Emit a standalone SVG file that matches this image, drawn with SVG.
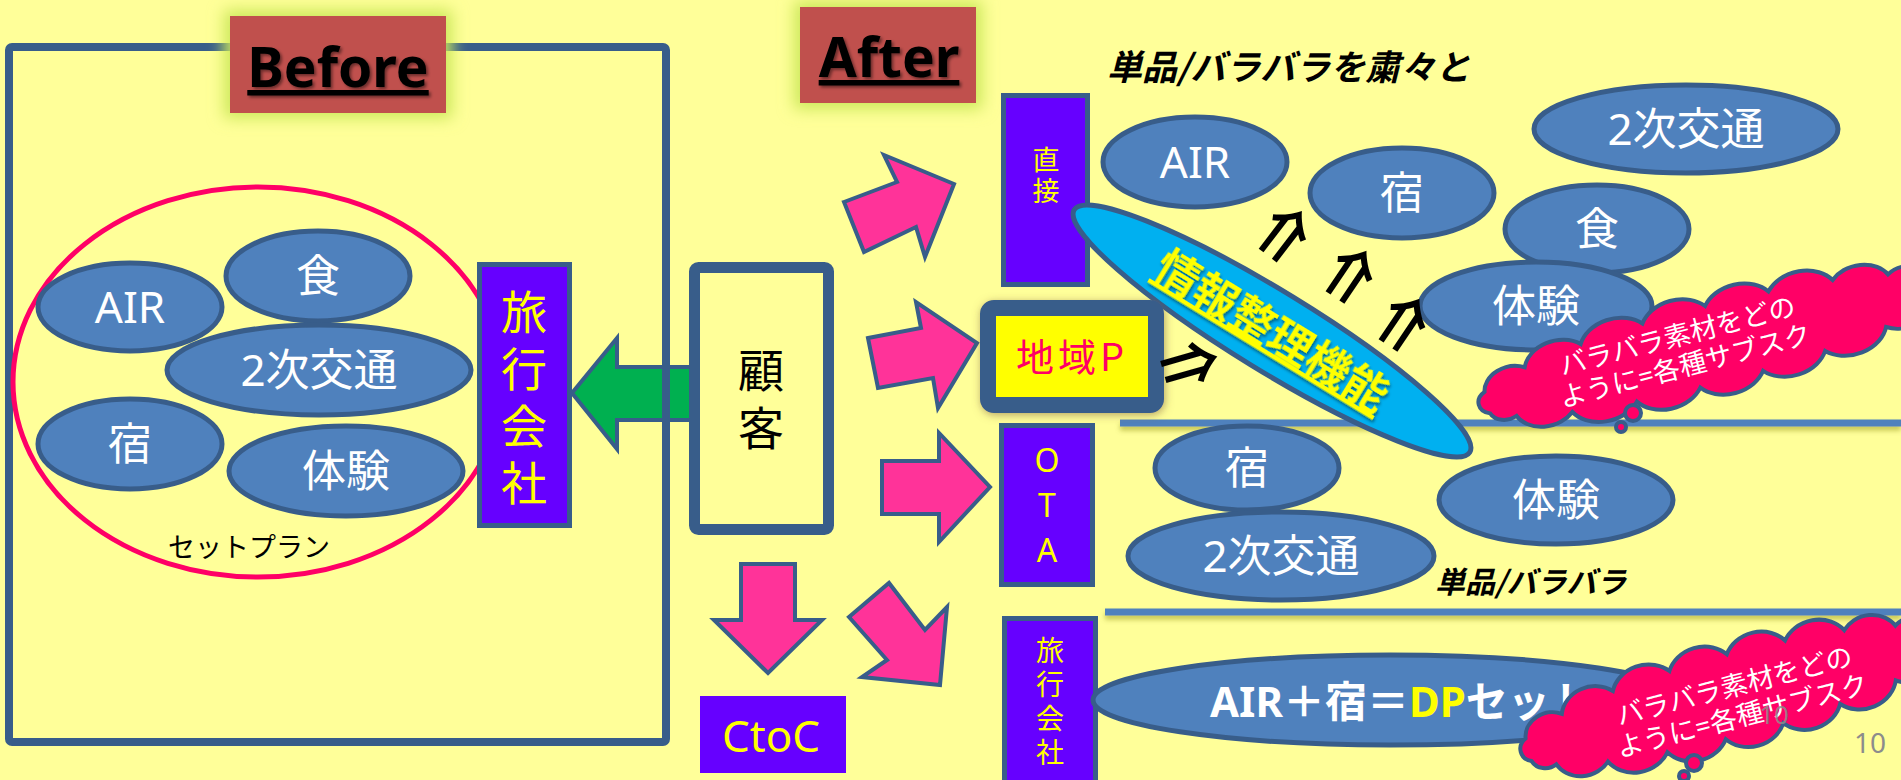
<svg xmlns="http://www.w3.org/2000/svg" width="1901" height="780" viewBox="0 0 1901 780">
<defs>
<style>
.ell{fill:#4F81BD;stroke:#385D8A;stroke-width:5}
.lbl{fill:#fff;font-family:"Noto Sans","Noto Sans CJK JP",sans-serif;font-size:44px;text-anchor:middle}
.pbox{fill:#6600FF;stroke:#385D8A;stroke-width:5}
.ytx{fill:#FFFF00;font-family:"Noto Sans","Noto Sans CJK JP",sans-serif;text-anchor:middle}
.vt{fill:#FFFF00;font-family:"Noto Sans CJK JP",sans-serif;writing-mode:vertical-rl;text-anchor:start}
.parrow{fill:#FF3399;stroke:#385D8A;stroke-width:4}
.cloud{fill:#FF0066;stroke:#385D8A;stroke-width:4}
.ctx{fill:#fff;font-family:"Noto Sans","Noto Sans CJK JP",sans-serif;font-size:27px;text-anchor:middle}
.dbl{fill:#000;font-family:"Noto Sans CJK JP",sans-serif;font-weight:bold;font-size:60px;text-anchor:middle}
.sep{fill:#4F81BD}
.ttl{font-family:"Noto Sans","Liberation Sans",sans-serif;font-weight:bold;font-size:55px;text-anchor:middle;text-decoration:underline;fill:#000}
.redbox{fill:#C0504D}
.glowbox{fill:#CBE85A}
.note{font-family:"Noto Sans CJK JP",sans-serif;font-weight:bold;font-style:italic;fill:#000}
.pg{fill:#8C8C8C;font-family:"Noto Sans",sans-serif;text-anchor:middle}
</style>
<filter id="glow" x="-40%" y="-50%" width="180%" height="200%"><feGaussianBlur stdDeviation="8"/></filter>
<filter id="tsh" x="-10%" y="-20%" width="130%" height="150%"><feDropShadow dx="2" dy="2" stdDeviation="1.5" flood-color="#000" flood-opacity="0.45"/></filter>
<filter id="lsh" x="-5%" y="-100%" width="110%" height="400%"><feDropShadow dx="0" dy="4" stdDeviation="2.5" flood-color="#808000" flood-opacity="0.45"/></filter>
<filter id="bsh" x="-20%" y="-30%" width="140%" height="160%"><feDropShadow dx="1" dy="2" stdDeviation="4" flood-color="#7A5A3A" flood-opacity="0.55"/></filter>
</defs>

<rect x="0" y="0" width="1901" height="780" fill="#FFFF99"/>

<g id="connectors">
  <polygon id="green-arrow" points="572,393 617,338 617,367 700,367 700,420 617,420 617,449" fill="#00B050" stroke="#385D8A" stroke-width="4"/>
  <polygon class="parrow" points="844,202 897,182 884,155 954,184 925,257 916,227 864,252"/>
  <polygon class="parrow" points="868,338 921,328 916,302 977,343 938,408 933,378 878,388"/>
  <polygon class="parrow" points="882,461 939,461 939,433 990,487 939,542 939,514 882,514"/>
  <polygon class="parrow" points="741,564 795,564 795,620 822,620 768,673 714,620 741,620"/>
  <polygon class="parrow" points="849,617 889,583 925,630 947,607 940,685 862,677 887,660"/>
</g>

<g id="before-frame">
  <rect x="9" y="47" width="657" height="695" rx="3" fill="none" stroke="#385D8A" stroke-width="8"/>
</g>

<g id="before-label">
  <rect class="glowbox" x="224" y="10" width="228" height="108" filter="url(#glow)"/>
  <rect class="redbox" x="230" y="16" width="216" height="97"/>
  <text class="ttl" x="338" y="87" filter="url(#tsh)">Before</text>
</g>

<g id="after-label">
  <rect class="glowbox" x="794" y="1" width="188" height="108" filter="url(#glow)"/>
  <rect class="redbox" x="800" y="7" width="176" height="96"/>
  <text class="ttl" x="889" y="77" filter="url(#tsh)">After</text>
</g>

<g id="set-plan">
  <ellipse cx="258" cy="382" rx="245" ry="195" fill="none" stroke="#FF0066" stroke-width="5"/>
  <text x="249" y="557" font-family="'Noto Sans CJK JP',sans-serif" font-size="27" text-anchor="middle" fill="#000">セットプラン</text>
</g>

<g id="b-air"><ellipse class="ell" cx="130" cy="307" rx="92" ry="44"/><text class="lbl" x="130" y="323">AIR</text></g>
<g id="b-food"><ellipse class="ell" cx="318" cy="276" rx="92" ry="45"/><text class="lbl" x="318" y="292">食</text></g>
<g id="b-transit"><ellipse class="ell" cx="319" cy="370" rx="152" ry="45"/><text class="lbl" x="319" y="386">2次交通</text></g>
<g id="b-inn"><ellipse class="ell" cx="130" cy="444" rx="92" ry="45"/><text class="lbl" x="130" y="460">宿</text></g>
<g id="b-exp"><ellipse class="ell" cx="346" cy="471" rx="117" ry="45"/><text class="lbl" x="346" y="487">体験</text></g>

<g id="b-agency">
  <rect class="pbox" x="479.5" y="264.5" width="90" height="261"/>
  <text class="vt" x="524" y="289" font-size="46" letter-spacing="11">旅行会社</text>
</g>

<g id="customer">
  <rect x="694.5" y="267.5" width="134" height="262" rx="4" fill="#FFFF99" stroke="#385D8A" stroke-width="11"/>
  <text x="761" y="347" font-family="'Noto Sans CJK JP',sans-serif" font-size="46" fill="#000" writing-mode="vertical-rl" letter-spacing="12">顧客</text>
</g>

<g id="ctoc">
  <rect x="700" y="696" width="146" height="77" fill="#6600FF"/>
  <text class="ytx" x="771" y="752" font-size="44">CtoC</text>
</g>

<g id="separators">
  <rect class="sep" x="1120" y="419.5" width="781" height="7" filter="url(#lsh)"/>
  <rect class="sep" x="1105" y="608.5" width="796" height="7" filter="url(#lsh)"/>
</g>

<g id="note-top"><text class="note" x="1107" y="80" font-size="35">単品/バラバラを粛々と</text></g>
<g id="note-mid"><text class="note" x="1435" y="593" font-size="30">単品/バラバラ</text></g>

<g id="m-inn"><ellipse class="ell" cx="1247" cy="468" rx="92" ry="42"/><text class="lbl" x="1247" y="484">宿</text></g>
<g id="m-transit"><ellipse class="ell" cx="1281" cy="556" rx="153" ry="44"/><text class="lbl" x="1281" y="572">2次交通</text></g>
<g id="m-exp"><ellipse class="ell" cx="1556" cy="500" rx="117" ry="44"/><text class="lbl" x="1556" y="516">体験</text></g>

<g id="a-air"><ellipse class="ell" cx="1195" cy="162" rx="92" ry="45"/><text class="lbl" x="1195" y="178">AIR</text></g>
<g id="a-inn"><ellipse class="ell" cx="1402" cy="193" rx="92" ry="45"/><text class="lbl" x="1402" y="209">宿</text></g>
<g id="a-transit"><ellipse class="ell" cx="1686" cy="129" rx="152" ry="44"/><text class="lbl" x="1686" y="145">2次交通</text></g>
<g id="a-food"><ellipse class="ell" cx="1597" cy="229" rx="92" ry="44"/><text class="lbl" x="1597" y="245">食</text></g>
<g id="a-exp"><ellipse class="ell" cx="1536" cy="306" rx="116" ry="44"/><text class="lbl" x="1536" y="322">体験</text></g>

<g id="direct">
  <rect class="pbox" x="1003.5" y="95.5" width="84" height="189"/>
  <text class="vt" x="1046" y="146" font-size="27" letter-spacing="4">直接</text>
</g>

<g id="info-function" transform="translate(1272,331) rotate(31.5)">
  <ellipse cx="0" cy="0" rx="232" ry="40" fill="#00B0F0" stroke="#385D8A" stroke-width="5"/>
  <text x="0" y="16" font-family="'Noto Sans CJK JP',sans-serif" font-weight="bold" font-size="44" text-anchor="middle" fill="#FFFF00" text-decoration="underline" filter="url(#tsh)">情報整理機能</text>
</g>

<g id="region-p">
  <rect x="988" y="308" width="168" height="97" rx="6" fill="#FFFF00" stroke="#385D8A" stroke-width="16" filter="url(#bsh)"/>
  <text x="1072" y="371" font-family="'Noto Sans CJK JP',sans-serif" font-size="38" text-anchor="middle" fill="#FF0066" letter-spacing="4">地域P</text>
</g>

<g id="double-arrows">
  <text class="dbl" transform="translate(1190,365) rotate(-16)" x="0" y="22">⇒</text>
  <text class="dbl" transform="translate(1285,234) rotate(-52.5)" x="0" y="22">⇒</text>
  <text class="dbl" transform="translate(1351,275) rotate(-56)" x="0" y="22">⇒</text>
  <text class="dbl" transform="translate(1404,323) rotate(-56)" x="0" y="22">⇒</text>
</g>

<g id="cloud-1">
  <path class="cloud" vector-effect="non-scaling-stroke" transform="translate(1710,345) rotate(-14.5) scale(1,0.78)" d="M -230 -14.3 A 28 28 0 0 1 -185 -31.9 A 35 35 0 0 1 -125 -42.7 A 38 38 0 0 1 -60 -48.4 A 38 38 0 0 1 5 -50 A 38 38 0 0 1 70 -47.8 A 38 38 0 0 1 135 -41.3 A 33 33 0 0 1 190 -30.5 A 24 24 0 0 1 228 -15.6 A 17 17 0 0 1 228 15.6 A 33 33 0 0 1 175 34.2 A 38 38 0 0 1 110 44.4 A 38 38 0 0 1 45 49.1 A 38 38 0 0 1 -20 49.8 A 38 38 0 0 1 -85 46.8 A 38 38 0 0 1 -150 39 A 33 33 0 0 1 -205 26 A 18 18 0 0 1 -230 14.3 A 16 16 0 0 1 -230 -14.3 Z"/>
  <circle class="cloud" cx="1633" cy="413" r="8"/>
  <circle class="cloud" cx="1621" cy="427" r="5"/>
  <g transform="translate(1681,350) rotate(-14.5)">
    <text class="ctx" x="0" y="-5">バラバラ素材をどの</text>
    <text class="ctx" x="0" y="26">ように=各種サブスク</text>
  </g>
</g>

<g id="ota">
  <rect class="pbox" x="1001.5" y="425.5" width="91" height="159"/>
  <g class="ytx" font-size="32"><text x="1047" y="472">O</text><text x="1047" y="517">T</text><text x="1047" y="562">A</text></g>
</g>

<g id="a-agency">
  <rect class="pbox" x="1004.5" y="618.5" width="91" height="170"/>
  <text class="vt" x="1050" y="636" font-size="28" letter-spacing="6">旅行会社</text>
</g>

<g id="dp-set">
  <ellipse class="ell" cx="1390" cy="700" rx="297" ry="45"/>
  <text x="1210" y="717" font-family="'Noto Sans','Noto Sans CJK JP',sans-serif" font-weight="bold" font-size="42" fill="#fff">AIR＋宿＝<tspan fill="#FFFF00">DP</tspan>セット</text>
</g>

<g id="cloud-2">
  <path class="cloud" vector-effect="non-scaling-stroke" transform="translate(1733,695) rotate(-15) scale(0.92,0.82)" d="M -230 -14.3 A 28 28 0 0 1 -185 -31.9 A 35 35 0 0 1 -125 -42.7 A 38 38 0 0 1 -60 -48.4 A 38 38 0 0 1 5 -50 A 38 38 0 0 1 70 -47.8 A 38 38 0 0 1 135 -41.3 A 33 33 0 0 1 190 -30.5 A 24 24 0 0 1 228 -15.6 A 17 17 0 0 1 228 15.6 A 33 33 0 0 1 175 34.2 A 38 38 0 0 1 110 44.4 A 38 38 0 0 1 45 49.1 A 38 38 0 0 1 -20 49.8 A 38 38 0 0 1 -85 46.8 A 38 38 0 0 1 -150 39 A 33 33 0 0 1 -205 26 A 18 18 0 0 1 -230 14.3 A 16 16 0 0 1 -230 -14.3 Z"/>
  <circle class="cloud" cx="1694" cy="763" r="8"/>
  <circle class="cloud" cx="1684" cy="776" r="5"/>
  <g transform="translate(1738,700) rotate(-14.5)">
    <text class="ctx" x="0" y="-5">バラバラ素材をどの</text>
    <text class="ctx" x="0" y="26">ように=各種サブスク</text>
  </g>
</g>

<g id="page-numbers">
  <text class="pg" x="1774" y="724" font-size="26" fill-opacity="0.85">10</text>
  <text class="pg" x="1870" y="753" font-size="28">10</text>
</g>
</svg>
